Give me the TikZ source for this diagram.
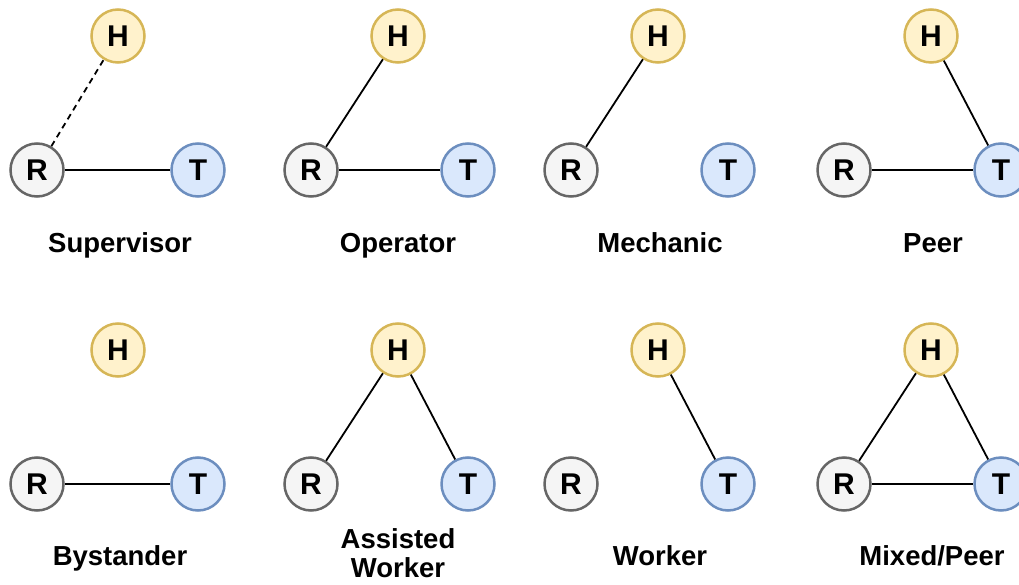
\documentclass[tikz,border=0pt]{standalone}
\usepackage{fontspec}
\setmainfont{Liberation Sans}
\begin{document}
\begin{tikzpicture}[x=1pt,y=-1pt,
  agent/.style={circle,line width=2.5pt,minimum size=53pt,inner sep=0pt,
    font=\fontsize{30}{30}\selectfont\bfseries},
  human/.style={agent,draw=hstroke,fill=hfill},
  robot/.style={agent,draw=rstroke,fill=rfill},
  task/.style={agent,draw=tstroke,fill=tfill},
  link/.style={line width=1.8pt,black},
  caption/.style={font=\fontsize{27.5}{29}\selectfont\bfseries,align=center,
    inner sep=0pt,anchor=base}]
\definecolor{hfill}{HTML}{FFF2CC}\definecolor{hstroke}{HTML}{D6B656}
\definecolor{rfill}{HTML}{F5F5F5}\definecolor{rstroke}{HTML}{666666}
\definecolor{tfill}{HTML}{DAE8FC}\definecolor{tstroke}{HTML}{6C8EBF}
\useasboundingbox (0,0) rectangle (1019,585);
\clip (0,0) rectangle (1019,585);

% ---- top row ----
\node[human] (h1) at (118,36) {H};
\node[robot] (r1) at (37,170) {R};
\node[task]  (t1) at (198,170) {T};
\node[caption] (c1) at (120,252) {Supervisor};
\draw[link,dash pattern=on 6pt off 4.5pt] (r1) -- (h1);
\draw[link] (r1) -- (t1);

\node[human] (h2) at (398,36) {H};
\node[robot] (r2) at (311,170) {R};
\node[task]  (t2) at (468,170) {T};
\node[caption] (c2) at (398,252) {Operator};
\draw[link] (r2) -- (h2);
\draw[link] (r2) -- (t2);

\node[human] (h3) at (658,36) {H};
\node[robot] (r3) at (571,170) {R};
\node[task]  (t3) at (728,170) {T};
\node[caption] (c3) at (660,252) {Mechanic};
\draw[link] (r3) -- (h3);

\node[human] (h4) at (931,36) {H};
\node[robot] (r4) at (844,170) {R};
\node[task]  (t4) at (1001,170) {T};
\node[caption] (c4) at (933,252) {Peer};
\draw[link] (h4) -- (t4);
\draw[link] (r4) -- (t4);

% ---- bottom row ----
\node[human] (h5) at (118,350) {H};
\node[robot] (r5) at (37,484) {R};
\node[task]  (t5) at (198,484) {T};
\node[caption] (c5) at (120,565) {Bystander};
\draw[link] (r5) -- (t5);

\node[human] (h6) at (398,350) {H};
\node[robot] (r6) at (311,484) {R};
\node[task]  (t6) at (468,484) {T};
\node[caption] (c6) at (398,577) {Assisted\\Worker};
\draw[link] (r6) -- (h6);
\draw[link] (h6) -- (t6);

\node[human] (h7) at (658,350) {H};
\node[robot] (r7) at (571,484) {R};
\node[task]  (t7) at (728,484) {T};
\node[caption] (c7) at (660,565) {Worker};
\draw[link] (h7) -- (t7);

\node[human] (h8) at (931,350) {H};
\node[robot] (r8) at (844,484) {R};
\node[task]  (t8) at (1001,484) {T};
\node[caption] (c8) at (932,565) {Mixed/Peer};
\draw[link] (r8) -- (h8);
\draw[link] (h8) -- (t8);
\draw[link] (r8) -- (t8);
\end{tikzpicture}
\end{document}
